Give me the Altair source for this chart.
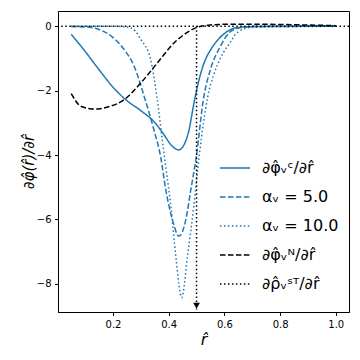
import altair as alt
import pandas as pd

BLUE = "#1f77b4"
LAB_C = "∂φ̂ᵥᶜ/∂r̂"
LAB_A5 = "αᵥ = 5.0"
LAB_A10 = "αᵥ = 10.0"
LAB_N = "∂φ̂ᵥᴺ/∂r̂"
LAB_ST = "∂ρ̂ᵥˢᵀ/∂r̂"
labels = [LAB_C, LAB_A5, LAB_A10, LAB_N, LAB_ST]
colors = [BLUE, BLUE, BLUE, "black", "black"]
dashes = [[1, 0], [5.55, 2.4], [1.5, 2.475], [5.55, 2.4], [1.5, 2.475]]

r_c = [0.05, 0.10, 0.15, 0.20, 0.25, 0.30, 0.35, 0.38, 0.41, 0.436, 0.455, 0.473, 0.49, 0.509,
       0.532, 0.55, 0.568, 0.604, 0.64, 0.70, 0.80, 1.00]
v_c = [-0.25, -0.78, -1.35, -1.89, -2.31, -2.62, -2.99, -3.33, -3.70, -3.84, -3.68, -3.22, -2.42,
       -1.66, -1.03, -0.74, -0.51, -0.20, -0.05, -0.01, 0.0, 0.0]

r_a5 = [0.05, 0.10, 0.15, 0.20, 0.24, 0.276, 0.312, 0.347, 0.371, 0.39, 0.414, 0.437, 0.461, 0.479,
        0.50, 0.524, 0.55, 0.586, 0.615, 0.65, 0.70, 1.00]
v_a5 = [-0.01, -0.02, -0.10, -0.35, -0.72, -1.24, -2.18, -3.22, -4.05, -5.10, -6.03, -6.52, -6.03,
        -5.10, -4.00, -2.30, -1.34, -0.62, -0.22, -0.06, -0.01, 0.0]

r_a10 = [0.05, 0.20, 0.25, 0.28, 0.30, 0.335, 0.359, 0.377, 0.39, 0.408, 0.426, 0.447, 0.467, 0.49,
         0.51, 0.525, 0.54, 0.562, 0.588, 0.621, 0.645, 0.70, 1.00]
v_a10 = [0.0, 0.0, -0.02, -0.15, -0.41, -1.03, -2.28, -3.53, -4.40, -5.60, -7.18, -8.43, -7.18,
         -5.60, -4.00, -3.00, -2.20, -1.50, -0.95, -0.50, -0.20, -0.03, 0.0]

r_n = [0.05, 0.086, 0.134, 0.18, 0.24, 0.30, 0.36, 0.42, 0.465, 0.50, 0.55, 0.60, 0.75, 0.90, 1.00]
v_n = [-2.09, -2.49, -2.57, -2.51, -2.28, -1.76, -1.13, -0.51, -0.20, -0.04, 0.04, 0.06, 0.06, 0.04, 0.02]

st_r = [0.5]
st_top = [0.0]
st_tip = [-8.8]
st_head = [-8.68]

x_ticks = [0.2, 0.4, 0.6, 0.8, 1.0]
y_ticks = [0, -2, -4, -6, -8]
x_dom = [0.0025, 1.0475]
y_dom = [-8.875, 0.475]

rows = []
for lab, rr, vv in [(LAB_C, r_c, v_c), (LAB_A5, r_a5, v_a5), (LAB_A10, r_a10, v_a10), (LAB_N, r_n, v_n)]:
    for a, b in zip(rr, vv):
        rows.append({"series": lab, "r": a, "v": b})
df = pd.DataFrame(rows)

color = alt.Color("series:N", scale=alt.Scale(domain=labels, range=colors),
                  legend=alt.Legend(title=None, orient="none", legendX=161, legendY=141,
                                    labelFontSize=16, labelFont="DejaVu Sans", labelColor="black",
                                    symbolType="stroke", symbolSize=900, symbolStrokeWidth=1.5,
                                    rowPadding=5, labelOffset=11, labelLimit=300))
dash = alt.StrokeDash("series:N", scale=alt.Scale(domain=labels, range=dashes), legend=None)

xenc = alt.X("r:Q", scale=alt.Scale(domain=x_dom, nice=False, zero=False),
             axis=alt.Axis(values=x_ticks, format=".1f", title="r̂", titleFontSize=16,
                           titleFontWeight="normal", titlePadding=2, titleFontStyle="italic"))
yenc = alt.Y("v:Q", scale=alt.Scale(domain=y_dom, nice=False, zero=False),
             axis=alt.Axis(values=y_ticks, format="d", title="∂φ̂(r̂)/∂r̂", titleFontSize=15,
                           titleFontWeight="normal", titlePadding=0, titleFontStyle="italic"))

lines = alt.Chart(df).mark_line(strokeWidth=1.5, interpolate="monotone").encode(
    x=xenc, y=yenc, color=color, strokeDash=dash)

hline = alt.Chart(pd.DataFrame({"series": [LAB_ST], "v": [0.0]})).mark_rule(strokeWidth=1.5).encode(
    y="v:Q", color=color, strokeDash=dash)

vline = alt.Chart(pd.DataFrame({"series": [LAB_ST], "r": st_r, "v": st_top, "v2": st_tip})).mark_rule(
    strokeWidth=1.5).encode(x="r:Q", y="v:Q", y2="v2:Q", color=color, strokeDash=dash)

head = alt.Chart(pd.DataFrame({"r": st_r, "v": st_head})).mark_point(
    shape="triangle-down", filled=True, size=45, opacity=1).encode(
    x="r:Q", y="v:Q", color=alt.value("black"))

chart = alt.layer(lines, hline, vline, head).properties(
    width=291, height=301,
    autosize=alt.AutoSizeParams(type="none"),
    padding={"left": 50, "top": 3, "right": 3, "bottom": 40},
).configure(font="DejaVu Sans").configure_view(stroke="black", strokeWidth=1).configure_axis(
    grid=False, domainColor="black", tickColor="black", labelColor="black", titleColor="black",
    labelFontSize=10, tickSize=3.5, labelPadding=3.5, domainWidth=1
)

chart.save("out.html", embed_options={"renderer": "svg", "actions": False})
